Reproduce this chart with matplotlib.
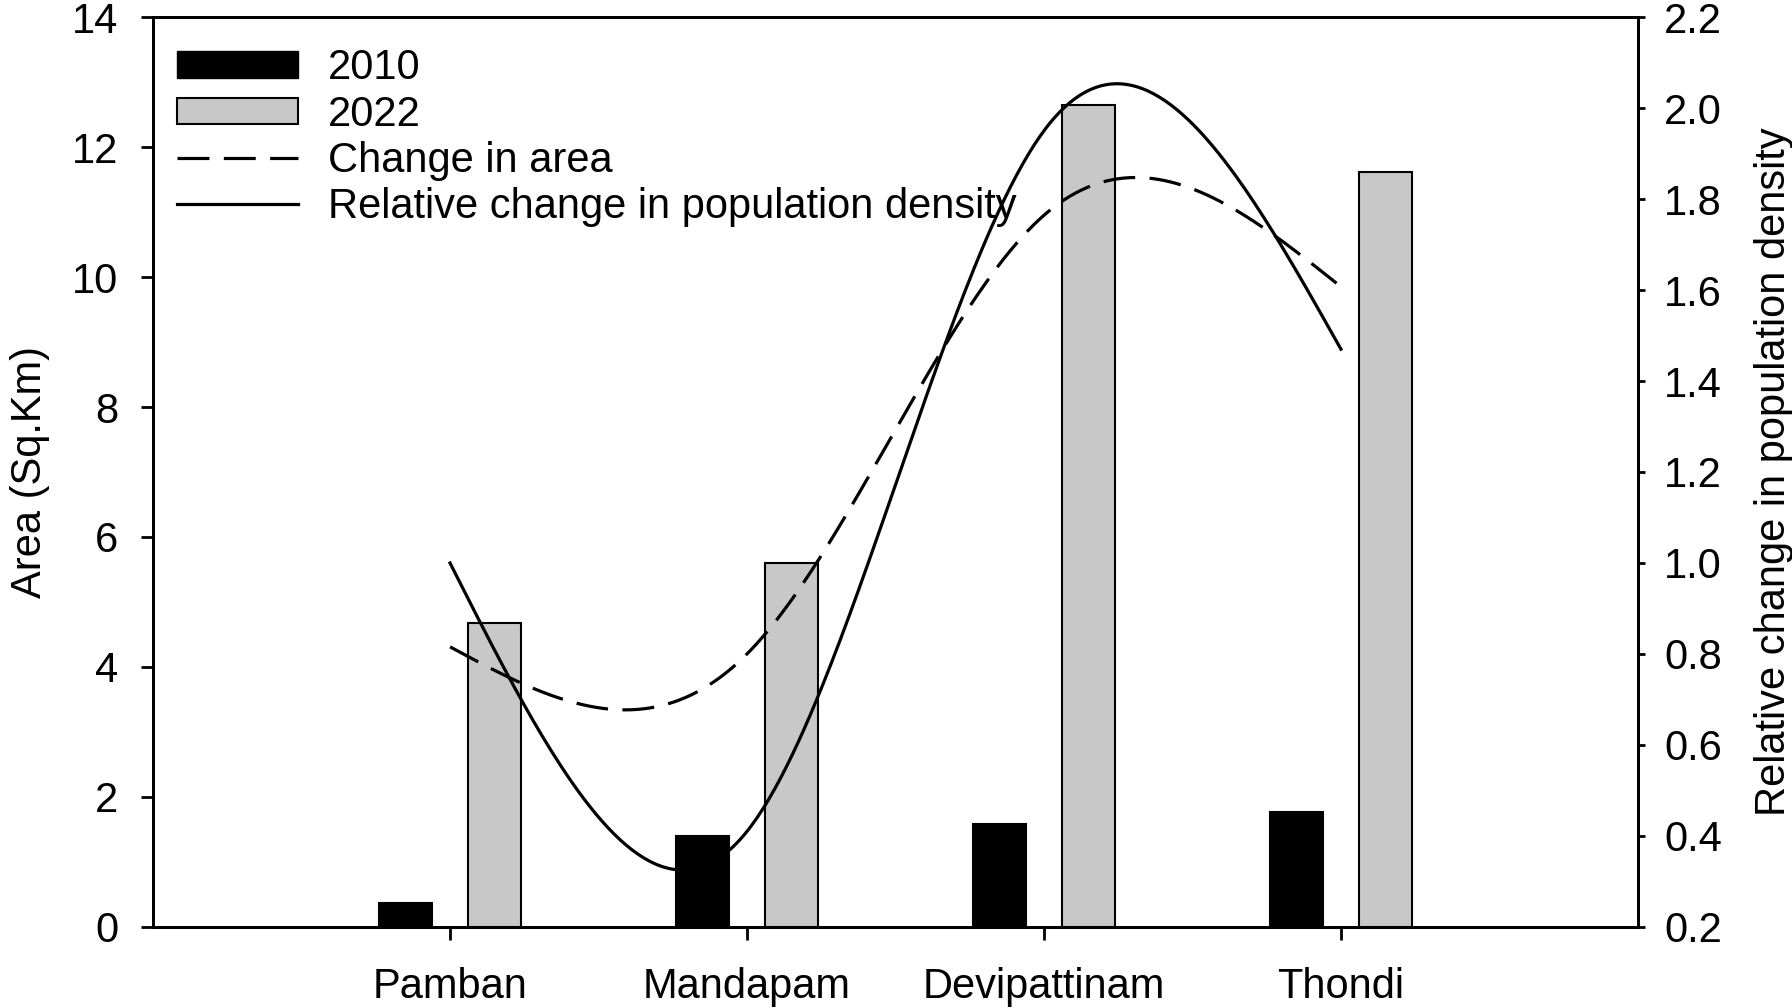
import numpy as np
import matplotlib
matplotlib.use('Agg')
import matplotlib.pyplot as plt
from matplotlib.patches import Patch
from matplotlib.lines import Line2D

plt.rcParams['font.family'] = ['Liberation Sans', 'DejaVu Sans']
plt.rcParams['font.size'] = 30

# values
sites = ['Pamban', 'Mandapam', 'Devipattinam', 'Thondi']
area_2010 = [0.37, 1.40, 1.58, 1.77]
area_2022 = [4.68, 5.60, 12.64, 11.62]
change_area = [4.31, 4.20, 10.95, 9.85]
rel_density = [1.00, 0.41, 1.95, 1.47]


def natural_spline(xs, ys, n=300):
    # smooth curve through the points, like the original spline plot
    xs = np.asarray(xs, float)
    ys = np.asarray(ys, float)
    k = len(xs)
    h = np.diff(xs)
    A = np.zeros((k, k))
    r = np.zeros(k)
    A[0, 0] = A[-1, -1] = 1
    for i in range(1, k - 1):
        A[i, i - 1] = h[i - 1]
        A[i, i] = 2 * (h[i - 1] + h[i])
        A[i, i + 1] = h[i]
        r[i] = 6 * ((ys[i + 1] - ys[i]) / h[i] - (ys[i] - ys[i - 1]) / h[i - 1])
    M = np.linalg.solve(A, r)
    xx = np.linspace(xs[0], xs[-1], n)
    idx = np.clip(np.searchsorted(xs, xx) - 1, 0, k - 2)
    x0, x1 = xs[idx], xs[idx + 1]
    hh = x1 - x0
    a = (x1 - xx) / hh
    b = (xx - x0) / hh
    yy = (a * ys[idx] + b * ys[idx + 1]
          + ((a ** 3 - a) * M[idx] + (b ** 3 - b) * M[idx + 1]) * hh ** 2 / 6)
    return xx, yy


x = np.arange(1, len(sites) + 1)
bar_w = 0.18
dash = (10, 4.5)

fig = plt.figure(figsize=(17.92, 10.08), dpi=100)
ax = fig.add_axes([0.0854, 0.0804, 0.8286, 0.9027])
ax2 = ax.twinx()

ax.bar(x - 0.15, area_2010, width=bar_w, color='black', edgecolor='black', linewidth=1.5)
ax.bar(x + 0.15, area_2022, width=bar_w, color='#c8c8c8', edgecolor='black', linewidth=1.5)

# change in area on the left scale, density on the right scale
sx, sy = natural_spline(x, change_area)
ax.plot(sx, sy, color='black', linewidth=2.3, dashes=dash)
rx, ry = natural_spline(x, rel_density)
ax2.plot(rx, ry, color='black', linewidth=2.3)

ax.set_xlim(0, 5)
ax.set_ylim(0, 14)
ax.set_xticks(x)
ax.set_xticklabels(sites)
ax.set_yticks(np.arange(0, 15, 2))
ax.set_ylabel('Area (Sq.Km)', labelpad=16)

ax2.set_ylim(0.2, 2.2)
ticks_r = np.arange(0.2, 2.21, 0.2)
ax2.set_yticks(ticks_r)
ax2.set_yticklabels(['%.1f' % v for v in ticks_r])
ax2.set_ylabel('Relative change in population density', labelpad=23)

for a in (ax, ax2):
    for s in a.spines.values():
        s.set_linewidth(2)
ax.tick_params(axis='x', length=9, width=2, pad=20)
ax.tick_params(axis='y', length=9, width=2, pad=16)
ax2.tick_params(axis='y', length=5, width=2, pad=14)

handles = [Patch(facecolor='black', edgecolor='black'),
           Patch(facecolor='#c8c8c8', edgecolor='black', linewidth=1.5),
           Line2D([], [], color='black', linewidth=2.3, dashes=dash),
           Line2D([], [], color='black', linewidth=2.3)]
labels = ['2010', '2022', 'Change in area', 'Relative change in population density']
ax.legend(handles, labels, loc='upper left', bbox_to_anchor=(0.005, 0.984),
          frameon=False, handlelength=2.9, handleheight=0.6,
          handletextpad=0.71, labelspacing=0.15, borderaxespad=0.0,
          borderpad=0.4)

fig.savefig('out.png', dpi=100)
